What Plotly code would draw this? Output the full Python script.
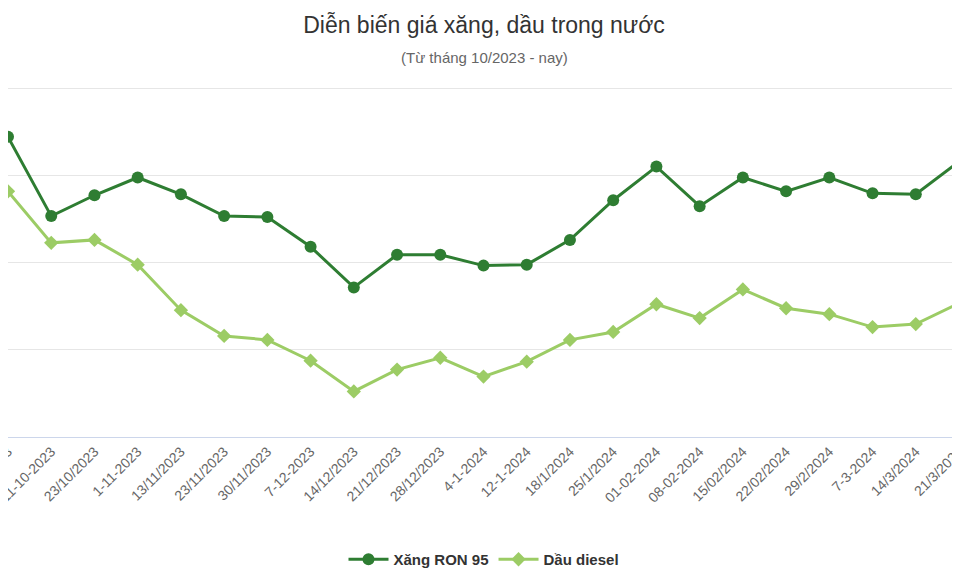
import plotly.graph_objects as go

dates = ["3-10-2023", "11-10-2023", "23/10/2023", "1-11-2023", "13/11/2023", "23/11/2023",
         "30/11/2023", "7-12-2023", "14/12/2023", "21/12/2023", "28/12/2023", "4-1-2024",
         "12-1-2024", "18/1/2024", "25/1/2024", "01-02-2024", "08-02-2024", "15/02/2024",
         "22/02/2024", "29/2/2024", "7-3-2024", "14/3/2024", "21/3/2024", "28/3/2024"]

ron95 = [22443, 21534, 21773, 21977, 21784, 21534, 21523, 21182, 20716, 21091, 21091, 20966,
         20977, 21261, 21716, 22102, 21648, 21977, 21818, 21977, 21795, 21784, 22159, 22300]

diesel = [21818, 21227, 21261, 20977, 20455, 20159, 20114, 19875, 19523, 19773, 19909, 19693,
          19864, 20114, 20205, 20523, 20364, 20693, 20477, 20409, 20261, 20295, 20534, 20600]

fig = go.Figure()
fig.add_trace(go.Scatter(x=dates, y=ron95, name="Xăng RON 95", mode="lines+markers",
                         line=dict(color="#2e7d32", width=3),
                         marker=dict(symbol="circle", size=12, color="#2e7d32")))
fig.add_trace(go.Scatter(x=dates, y=diesel, name="Dầu diesel", mode="lines+markers",
                         line=dict(color="#9ccc65", width=3),
                         marker=dict(symbol="diamond", size=11, color="#9ccc65")))

# the page has an 8px body margin, so the figure is a bit smaller than the window
fig.update_layout(
    width=952, height=568,
    margin=dict(l=0, r=0, t=79, b=137),
    plot_bgcolor="white", paper_bgcolor="white",
    font=dict(family="Liberation Sans, Arial", color="#333333"),
    title=dict(text="Diễn biến giá xăng, dầu trong nước", x=0.5, xanchor="center",
               y=1 - 17 / 568, yanchor="middle", font=dict(size=23, color="#333333")),
    annotations=[dict(text="(Từ tháng 10/2023 - nay)", xref="paper", yref="paper",
                      x=0.5, y=1 + (79 - 49) / 352, xanchor="center", yanchor="middle",
                      showarrow=False, font=dict(size=15, color="#666666"))],
    xaxis=dict(type="category", range=[0, 22.023], tickangle=-45,
               tickfont=dict(size=14, color="#666666"), showgrid=False,
               showline=True, linecolor="#ccd6eb", ticks="", automargin=False),
    yaxis=dict(range=[19000, 23015], dtick=1000, showticklabels=False,
               gridcolor="#e6e6e6", zeroline=False, automargin=False),
    legend=dict(orientation="h", x=0.5, xanchor="center", y=-0.35, yanchor="middle",
                font=dict(size=15, color="#333333"), itemwidth=40),
)
fig.for_each_trace(lambda t: t.update(name="<b>" + t.name + "</b>"))

fig.write_html("out.html")
